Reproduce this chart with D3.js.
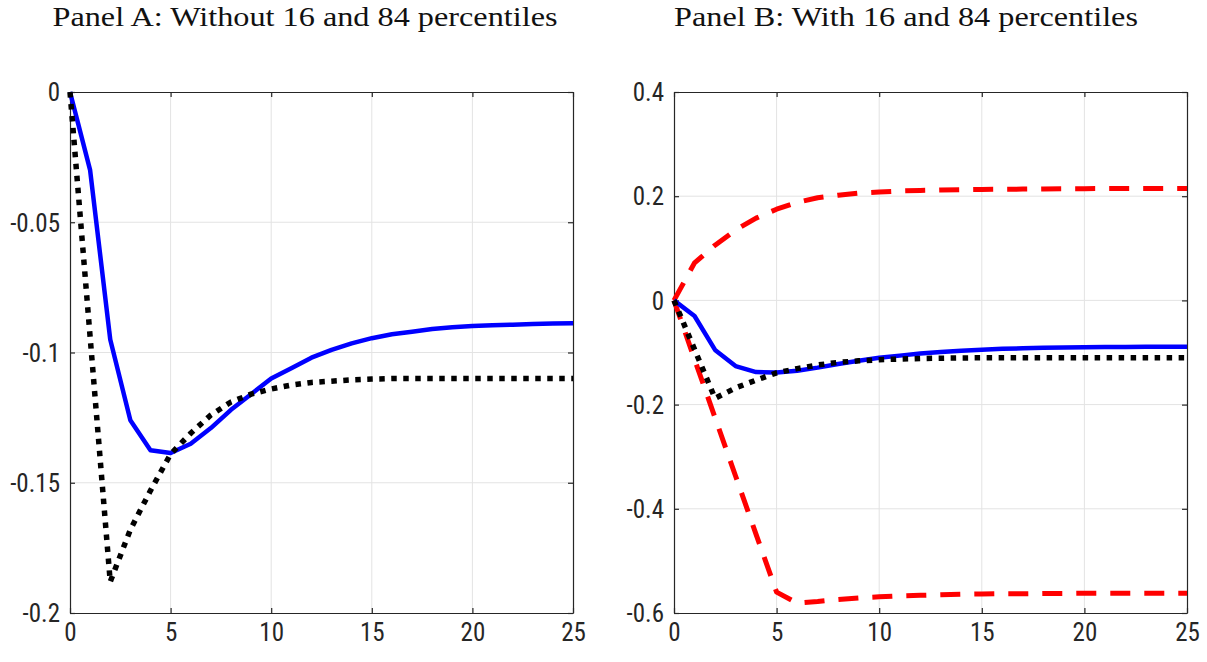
<!DOCTYPE html>
<html><head><meta charset="utf-8">
<script src="https://cdn.jsdelivr.net/npm/d3@7"></script>
<style>body{margin:0;background:#fff}svg{display:block}</style>
</head><body>
<svg id="c" width="1207" height="662"></svg>
<script>
const periods = d3.range(0, 26);
const median = [0,-0.030,-0.095,-0.126,-0.1375,-0.1386,-0.135,-0.129,-0.122,-0.116,-0.110,-0.106,-0.102,-0.099,-0.0965,-0.0945,-0.093,-0.092,-0.091,-0.0903,-0.0898,-0.0895,-0.0893,-0.0891,-0.0889,-0.0888];
const dotted = [0,-0.094,-0.188,-0.168,-0.153,-0.139,-0.131,-0.124,-0.119,-0.116,-0.114,-0.1125,-0.1115,-0.111,-0.1105,-0.1102,-0.110,-0.110,-0.110,-0.110,-0.110,-0.110,-0.110,-0.110,-0.110,-0.110];
const upper84 = [0,0.072,0.106,0.135,0.158,0.175,0.188,0.197,0.202,0.206,0.208,0.210,0.211,0.212,0.2125,0.213,0.2133,0.2136,0.214,0.2142,0.2145,0.2147,0.215,0.215,0.215,0.215];
const lower16 = [0,-0.113,-0.225,-0.337,-0.449,-0.560,-0.581,-0.578,-0.574,-0.571,-0.569,-0.567,-0.566,-0.565,-0.564,-0.5635,-0.563,-0.563,-0.5625,-0.5625,-0.562,-0.562,-0.562,-0.562,-0.562,-0.562];
const xTicks = [0,5,10,15,20,25];
const yTicksA = [0,-0.05,-0.1,-0.15,-0.2];
const yTicksB = [0.4,0.2,0,-0.2,-0.4,-0.6];
const titles = ["Panel A: Without 16 and 84 percentiles","Panel B: With 16 and 84 percentiles"];

const svg = d3.select("#c");
const panels = [
  {x0:70, x1:573, yd:[-0.2,0], yt:yTicksA, title:titles[0], tc:305, tw:505, series:[
    {d:median, c:"#0000ff", w:4.5, dash:null},
    {d:dotted, c:"#000", w:5.5, dash:"5.5,6.5"}]},
  {x0:674, x1:1187, yd:[-0.6,0.4], yt:yTicksB, title:titles[1], tc:906, tw:464, series:[
    {d:upper84, c:"#ff0000", w:5, dash:"20,14"},
    {d:lower16, c:"#ff0000", w:5, dash:"20,14"},
    {d:median, c:"#0000ff", w:4.5, dash:null},
    {d:dotted, c:"#000", w:5.5, dash:"5.5,6.5"}]}
];
const yTop = 92, yBot = 613;
const fmt = v => (v===0 ? "0" : String(v));
panels.forEach(p => {
  const x = d3.scaleLinear().domain([0,25]).range([p.x0,p.x1]);
  const y = d3.scaleLinear().domain(p.yd).range([yBot,yTop]);
  const g = svg.append("g");
  g.selectAll(".gx").data(xTicks.slice(1,-1)).join("line")
    .attr("x1",d=>x(d)).attr("x2",d=>x(d)).attr("y1",yTop).attr("y2",yBot)
    .attr("stroke","#e3e3e3").attr("stroke-width",1);
  g.selectAll(".gy").data(p.yt.filter(v=>v!==p.yd[0]&&v!==p.yd[1])).join("line")
    .attr("x1",p.x0).attr("x2",p.x1).attr("y1",d=>y(d)).attr("y2",d=>y(d))
    .attr("stroke","#e3e3e3").attr("stroke-width",1);
  const ax = g.append("g").attr("transform",`translate(0,${yBot})`)
    .call(d3.axisBottom(x).tickValues(xTicks).tickSizeInner(-5).tickSizeOuter(0).tickPadding(10).tickFormat(d3.format("d")));
  const ay = g.append("g").attr("transform",`translate(${p.x0},0)`)
    .call(d3.axisLeft(y).tickValues(p.yt).tickSizeInner(-5).tickSizeOuter(0).tickPadding(10).tickFormat(fmt));
  const axT = g.append("g").attr("transform",`translate(0,${yTop})`)
    .call(d3.axisTop(x).tickValues(xTicks).tickSizeInner(-5).tickSizeOuter(0).tickFormat(""));
  const ayR = g.append("g").attr("transform",`translate(${p.x1},0)`)
    .call(d3.axisRight(y).tickValues(p.yt).tickSizeInner(-5).tickSizeOuter(0).tickFormat(""));
  [ax,ay,axT,ayR].forEach(a=>{
    a.select(".domain").attr("stroke","#262626").attr("stroke-width",1.2);
    a.selectAll(".tick line").attr("stroke","#262626").attr("stroke-width",1.2);
    a.selectAll("text").attr("fill","#262626").attr("font-family","'Liberation Sans Narrow','Roboto Condensed','Liberation Sans',sans-serif").attr("font-size",25);
  });
  ax.selectAll("text").attr("dy","0.71em");
  ay.selectAll("text").attr("dy","0.35em");
  const clipId = "clip"+p.x0;
  g.append("clipPath").attr("id",clipId).append("rect")
    .attr("x",p.x0-6).attr("y",yTop-6).attr("width",p.x1-p.x0+6).attr("height",yBot-yTop+12);
  const line = d3.line().x((d,i)=>x(periods[i])).y(d=>y(d));
  p.series.forEach(s=>{
    g.append("path").datum(s.d).attr("d",line).attr("fill","none")
      .attr("stroke",s.c).attr("stroke-width",s.w)
      .attr("stroke-dasharray",s.dash).attr("stroke-linejoin","round")
      .attr("clip-path",`url(#${clipId})`);
  });
  svg.append("text").attr("x",p.tc).attr("y",26).attr("text-anchor","middle")
    .attr("font-family","'Liberation Serif','DejaVu Serif',serif")
    .attr("textLength",p.tw).attr("lengthAdjust","spacingAndGlyphs")
    .attr("font-size",27).attr("fill","#111").text(p.title);
});
</script>
</body></html>
